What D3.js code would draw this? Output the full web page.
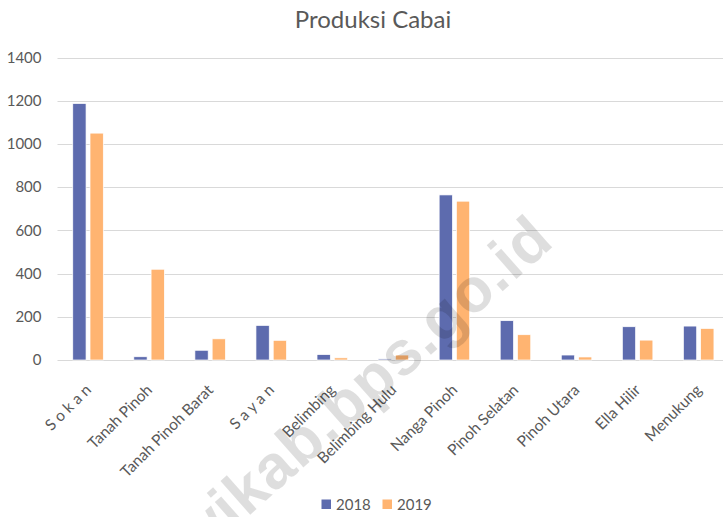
<!DOCTYPE html>
<html>
<head>
<meta charset="utf-8">
<script src="https://cdn.jsdelivr.net/npm/d3@7"></script>
<style>
  body { margin: 0; background: #fff; }
  svg { display: block; font-family: Lato, "Open Sans", sans-serif; }
</style>
</head>
<body>
<div id="chart-area"></div>
<script>
// data
const categories = ["S o k a n", "Tanah Pinoh", "Tanah Pinoh Barat", "S a y a n", "Belimbing",
  "Belimbing Hulu", "Nanga Pinoh", "Pinoh Selatan", "Pinoh Utara", "Ella Hilir", "Menukung"];
const seriesNames = ["2018", "2019"];
const values2018 = [1187, 15, 45, 160, 25, 5, 764, 182, 23, 154, 157];
const values2019 = [1050, 420, 98, 91, 10, 23, 735, 117, 14, 92, 146];
const yTicks = [0, 200, 400, 600, 800, 1000, 1200, 1400];
const colors = ["#5d6bae", "#ffb471"];

(function () {
  const width = 723, height = 517;
  // plot area (runs a little past the right edge, as in the cropped reference)
  const plot = { left: 57.5, right: 729.2, top: 57.5, bottom: 360 };

  const svg = d3.select("#chart-area")
    .append("svg")
    .attr("width", width)
    .attr("height", height);

  const x0 = d3.scaleBand()
    .domain(categories)
    .range([plot.left, plot.right])
    .paddingInner(0.5)
    .paddingOuter(0.25);

  const x1 = d3.scaleBand()
    .domain(seriesNames)
    .range([0, x0.bandwidth()])
    .paddingInner(0.23);

  const y = d3.scaleLinear().domain([0, 1400]).range([plot.bottom, plot.top]);

  // gridlines
  svg.append("g")
    .selectAll("line")
    .data(yTicks)
    .join("line")
    .attr("x1", plot.left)
    .attr("x2", plot.right)
    .attr("y1", (d) => Math.round(y(d)) + 0.5)
    .attr("y2", (d) => Math.round(y(d)) + 0.5)
    .attr("stroke", "#d9d9d9")
    .attr("stroke-width", 1.2);

  // y axis labels
  const yAxis = d3.axisLeft(y).tickValues(yTicks).tickFormat(d3.format("d")).tickSize(0).tickPadding(0);
  svg.append("g")
    .attr("transform", `translate(${plot.left - 16},0)`)
    .call(yAxis)
    .call((g) => g.select(".domain").remove())
    .selectAll("text")
    .attr("fill", "#595959")
    .style("font-size", "15px")
    .style("font-family", "Lato, 'Open Sans', sans-serif");

  // bars
  const rows = categories.map((c, i) => ({ cat: c, vals: [values2018[i], values2019[i]] }));
  const groups = svg.append("g")
    .selectAll("g")
    .data(rows)
    .join("g")
    .attr("transform", (d) => `translate(${x0(d.cat)},0)`);

  groups.selectAll("rect")
    .data((d) => d.vals.map((v, i) => ({ key: seriesNames[i], v: v, i: i })))
    .join("rect")
    .attr("x", (d) => x1(d.key))
    .attr("width", x1.bandwidth())
    .attr("y", (d) => y(d.v))
    .attr("height", (d) => y(0) - y(d.v))
    .attr("fill", (d) => colors[d.i])
    .attr("stroke", "#fff")
    .attr("stroke-width", 0.7);

  // x axis labels, rotated
  svg.append("g")
    .selectAll("text")
    .data(categories)
    .join("text")
    .attr("transform", (d) => `translate(${x0(d) + x0.bandwidth() / 2 + 4},${plot.bottom + 31}) rotate(-45)`)
    .attr("text-anchor", "end")
    .attr("fill", "#595959")
    .style("font-size", "15.5px")
    .text((d) => d);

  // title
  svg.append("text")
    .attr("x", 373)
    .attr("y", 28)
    .attr("text-anchor", "middle")
    .attr("fill", "#595959")
    .style("font-size", "24px")
    .text("Produksi Cabai");

  // legend
  const legendX = [321.5, 382.5];
  const legend = svg.append("g")
    .selectAll("g")
    .data(seriesNames)
    .join("g")
    .attr("transform", (d, i) => `translate(${legendX[i]},499.5)`);
  legend.append("rect")
    .attr("width", 9.5)
    .attr("height", 9.5)
    .attr("fill", (d, i) => colors[i]);
  legend.append("text")
    .attr("x", 14.5)
    .attr("y", 10)
    .attr("fill", "#595959")
    .style("font-size", "15px")
    .text((d) => d);

  // watermark
  svg.append("text")
    .attr("transform", "translate(556,244) rotate(-41.5)")
    .attr("text-anchor", "end")
    .attr("fill", "#000")
    .attr("fill-opacity", 0.13)
    .style("font-family", "'Liberation Sans', Arial, sans-serif")
    .style("font-weight", "bold")
    .style("font-size", "62px")
    .style("letter-spacing", "1px")
    .text("melawikab.bps.go.id");
})();
</script>
</body>
</html>
